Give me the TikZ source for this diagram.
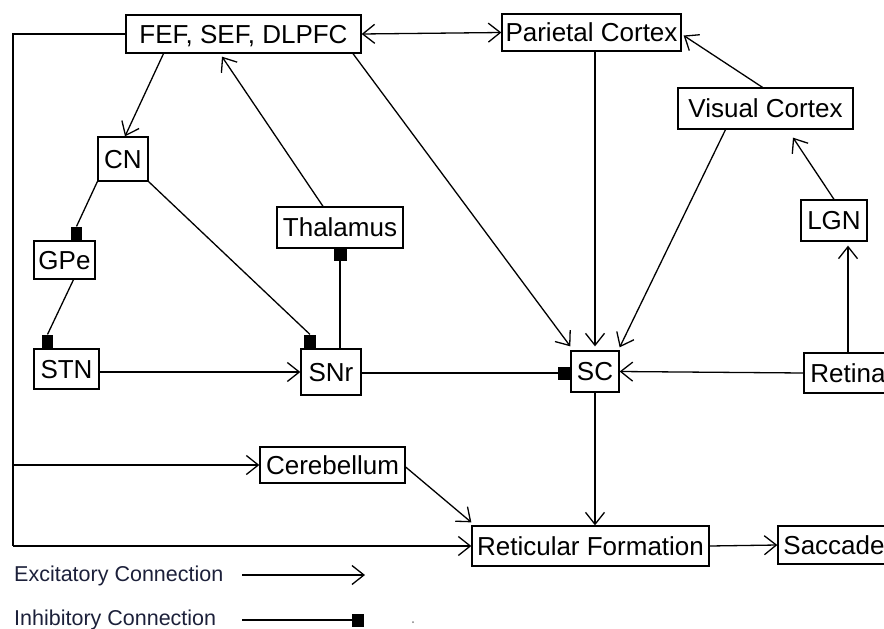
\documentclass[tikz,border=0pt]{standalone}
\usepackage{fontspec}
\setmainfont{Liberation Sans}
\usetikzlibrary{arrows.meta}
\definecolor{legendink}{RGB}{28,32,58}
\begin{document}
\begin{tikzpicture}[x=1pt,y=-1pt,
  box/.style={draw, line width=1.3pt, fill=white, inner sep=0pt,
    font=\fontsize{26}{29}\selectfont, text height=18.6pt, text depth=0pt},
  wire/.style={line width=1.3pt},
  exc/.style={wire, -{Straight Barb[length=12pt,width=19pt]}},
  excboth/.style={wire, {Straight Barb[length=12pt,width=19pt]}-{Straight Barb[length=12pt,width=19pt]}},
  inh/.style={wire, -{Square[length=12pt,width=13pt]}},
  inhsq/.style={fill=black, inner sep=0pt, minimum width=11.5pt, minimum height=13.5pt, anchor=south},
  legendtext/.style={anchor=west, inner sep=0pt, text=legendink,
    font=\fontsize{21.5}{24}\selectfont}]

\useasboundingbox (0,0) rectangle (884,629);
\clip (0,0) rectangle (884,629);

% regions
\node[box, minimum width=235pt, minimum height=38pt] (fef)  at (243.5,34)  {FEF, SEF, DLPFC};
\node[box, minimum width=179pt, minimum height=37pt] (par)  at (591.5,32.5) {Parietal Cortex};
\node[box, minimum width=175pt, minimum height=41pt] (vc)   at (765.5,108.5) {Visual Cortex};
\node[box, minimum width=50pt,  minimum height=44pt] (cn)   at (123,159)   {CN};
\node[box, minimum width=126pt, minimum height=41pt] (thal) at (340,227.5) {Thalamus};
\node[box, minimum width=66pt,  minimum height=41pt] (lgn)  at (834,220.5) {LGN};
\node[box, minimum width=61pt,  minimum height=38pt] (gpe)  at (64.5,260)  {GPe};
\node[box, minimum width=65pt,  minimum height=40pt] (stn)  at (66.5,369)  {STN};
\node[box, minimum width=60pt,  minimum height=46pt] (snr)  at (331,372)   {SNr};
\node[box, minimum width=48pt,  minimum height=41pt] (sc)   at (595,371.5) {SC};
\node[box, minimum width=88pt,  minimum height=40pt] (ret)  at (848,373)   {Retina};
\node[box, minimum width=145pt, minimum height=36pt] (cb)   at (332.5,465) {Cerebellum};
\node[box, minimum width=237pt, minimum height=40pt] (rf)   at (590.5,546) {Reticular Formation};
\node[box, minimum width=112pt, minimum height=38pt] (sac)  at (834,545)   {Saccade};

% bus on the left edge
\coordinate (busTop) at (13,34);
\coordinate (busMid) at (13,465);
\coordinate (busBot) at (13,546);
\draw[wire] (fef.west) -- (busTop) -- (busBot);
\draw[exc] (busBot) -- (rf.west);
\draw[exc] (busMid) -- (cb.west);

% excitatory connections
\draw[excboth] (fef.east) -- (par.west);
\draw[exc] ([xshift=-80pt]fef.south) -- ([xshift=2pt]cn.north);
\draw[exc] ([xshift=-17pt]thal.north) -- ([xshift=-21.5pt,yshift=-3pt]fef.south);
\draw[exc] ([xshift=109.5pt]fef.south) -- ([yshift=4pt]sc.north west);
\draw[exc] (sc.north |- par.south) -- ([yshift=4pt]sc.north);
\draw[exc] ([xshift=-40pt]vc.south) -- ([yshift=3pt]sc.north east);
\draw[exc] ([xshift=-3pt]vc.north) -- ([xshift=2pt,yshift=-3pt]par.east);
\draw[exc] (lgn.north) -- ([xshift=27.5pt,yshift=-8pt]vc.south);
\draw[exc] (ret.north) -- ([yshift=-4pt]ret.north |- lgn.south);
\draw[exc] (ret.west) -- (sc.east);
\draw[exc] ([yshift=-3pt]stn.east) -- (snr.west);
\draw[exc] (sc.south) -- (sc.south |- rf.north);
\draw[exc] ([yshift=-2pt]cb.east) -- ([yshift=3pt]rf.north west);
\draw[exc] (rf.east) -- (sac.west);

% inhibitory connections: upright blocks sitting on the target boxes
\node[inhsq] (sqgpe) at ([xshift=12pt]gpe.north) {};
\node[inhsq] (sqstn) at ([xshift=-19pt]stn.north) {};
\node[inhsq] (sqsnr) at ([xshift=-21pt]snr.north) {};
\draw[wire] (cn.south west) -- (sqgpe.north);
\draw[wire] ([xshift=9pt]gpe.south) -- (sqstn.north);
\draw[wire] (cn.south east) -- (sqsnr.north);
\draw[inh] (thal.south |- snr.north) -- (thal.south);
\draw[inh] ([yshift=-1pt]snr.east) -- ([yshift=-1.5pt]sc.west);

% legend
\node[legendtext] (lexc) at (14,576) {Excitatory Connection};
\node[legendtext] (linh) at (14,620) {Inhibitory Connection};
\coordinate (lexcA) at (242,575);
\coordinate (lexcB) at (365,575);
\coordinate (linhA) at (242,620);
\coordinate (linhB) at (364,620);
\draw[exc] (lexcA) -- (lexcB);
\draw[inh] (linhA) -- (linhB);
\fill[gray] (413,622) circle (1pt);
\end{tikzpicture}
\end{document}
